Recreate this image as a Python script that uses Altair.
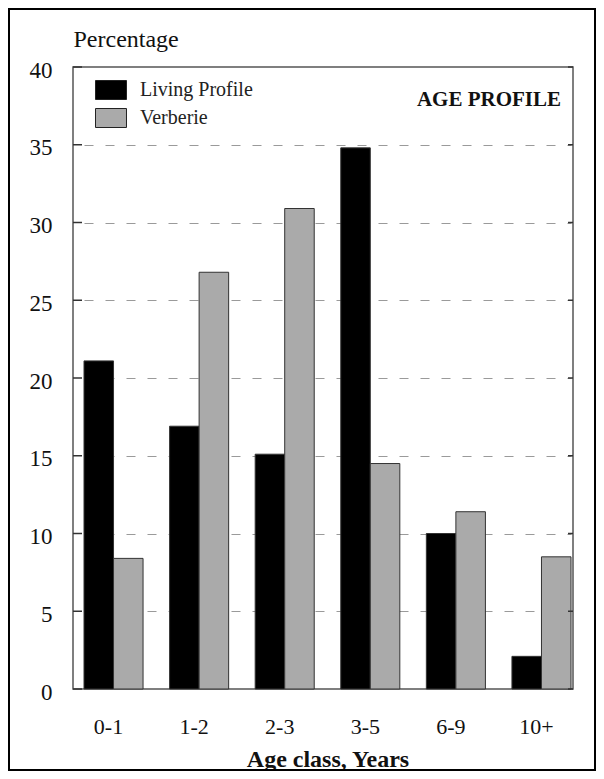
import altair as alt
import pandas as pd

age_classes = ["0-1", "1-2", "2-3", "3-5", "6-9", "10+"]
living_profile = [21.1, 16.9, 15.1, 34.8, 10.0, 2.1]
verberie = [8.4, 26.8, 30.9, 14.5, 11.4, 8.5]
series = ["Living Profile", "Verberie"]
series_colors = ["#000000", "#aaaaaa"]
y_ticks = [0, 5, 10, 15, 20, 25, 30, 35, 40]

rows = []
for a, lp, vb in zip(age_classes, living_profile, verberie):
    rows.append({"age": a, "series": series[0], "pct": lp})
    rows.append({"age": a, "series": series[1], "pct": vb})
df = pd.DataFrame(rows)
ticks_df = pd.DataFrame({"v": y_ticks})

FONT = "Liberation Serif"

bars = alt.Chart(df).mark_bar(stroke="#333333", strokeWidth=1).encode(
    x=alt.X(
        "age:N",
        sort=age_classes,
        scale=alt.Scale(range=[11, 498], paddingInner=0.31, paddingOuter=0),
        axis=alt.Axis(
            title="Age class, Years",
            labelAngle=0,
            ticks=False,
            tickSize=0,
            domain=False,
            labelFontSize=22,
            labelPadding=37,
            labelBaseline="middle",
            labelOffset=-5,
            labelColor="#111111",
            titleFontSize=24,
            titleFontWeight="bold",
            titleColor="#111111",
            titleY=77,
            titleBaseline="alphabetic",
        ),
    ),
    xOffset=alt.XOffset("series:N", sort=series,
                        scale=alt.Scale(paddingInner=0, paddingOuter=0)),
    y=alt.Y(
        "pct:Q",
        scale=alt.Scale(domain=[0, 40], nice=False),
        axis=alt.Axis(
            values=y_ticks,
            title="Percentage",
            titleAngle=0,
            titleX=0,
            titleY=-21,
            titleAlign="left",
            titleBaseline="alphabetic",
            titleFontSize=24,
            titleFontWeight="normal",
            titleColor="#111111",
            grid=True,
            gridDash=[9, 12],
            gridColor="#9a9a9a",
            gridWidth=1.2,
            gridOpacity={"condition": {"test": "datum.value === 0 || datum.value === 40", "value": 0}, "value": 1},
            ticks=False,
            tickSize=0,
            domain=False,
            labelAlign="right",
            labelPadding=21,
            labelBaseline="middle",
            labelOffset=3,
            labelFontSize=23,
            labelColor="#111111",
        ),
    ),
    color=alt.Color(
        "series:N",
        sort=series,
        scale=alt.Scale(domain=series, range=series_colors),
        legend=alt.Legend(
            title=None,
            orient="none",
            legendX=28,
            legendY=13,
            padding=0,
            symbolType="M-1.63,-1L1.63,-1L1.63,1L-1.63,1Z",
            symbolSize=361,
            symbolStrokeColor="#222222",
            symbolStrokeWidth=1,
            symbolOpacity=1,
            labelFontSize=20,
            labelFont=FONT,
            labelColor="#222222",
            labelOffset=19,
            rowPadding=4,
        ),
    ),
)

left_ticks = alt.Chart(ticks_df).mark_rule(color="#333333", strokeWidth=1.5).encode(
    y="v:Q", x=alt.value(0), x2=alt.value(9)
)
right_ticks = alt.Chart(ticks_df).mark_rule(color="#333333", strokeWidth=1.5).encode(
    y="v:Q", x=alt.value(495), x2=alt.value(500)
)

title_text = alt.Chart(pd.DataFrame({"t": ["AGE PROFILE"]})).mark_text(
    align="right", baseline="alphabetic", fontSize=21, fontWeight="bold",
    font=FONT, color="#111111"
).encode(x=alt.value(488), y=alt.value(39), text="t:N")

outer = alt.Chart(pd.DataFrame({"a": [1]})).mark_rect(
    filled=False, stroke="#000000", strokeWidth=2, clip=False
).encode(x=alt.value(-64), x2=alt.value(522), y=alt.value(-58), y2=alt.value(703))

chart = alt.layer(bars, left_ticks, right_ticks, title_text, outer).properties(
    width=500,
    height=622,
    autosize=alt.AutoSizeParams(type="none"),
    padding={"left": 65, "top": 59, "right": 23, "bottom": 82},
).configure(
    font=FONT,
).configure_view(
    stroke="#555555", strokeWidth=1.5
)

chart.save("out.html", embed_options={"renderer": "svg", "actions": False})
